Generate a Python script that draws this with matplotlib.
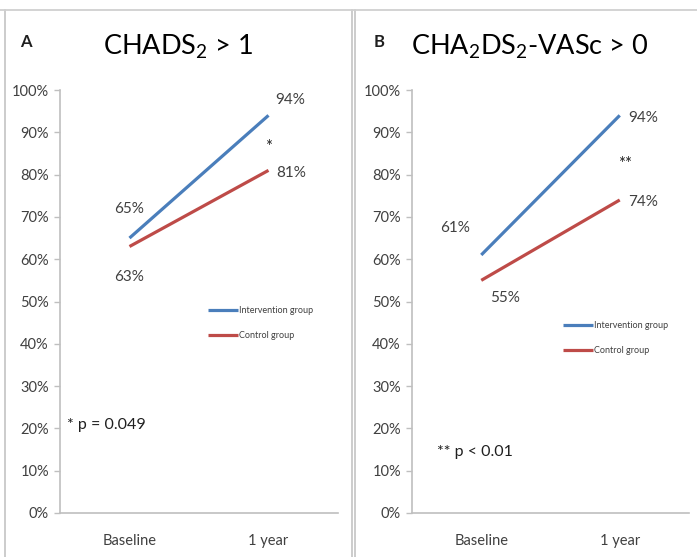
import matplotlib
matplotlib.use("Agg")
import matplotlib.pyplot as plt
from matplotlib.lines import Line2D
from matplotlib.ticker import PercentFormatter

plt.rcParams['font.family'] = ['Lato', 'DejaVu Sans']
plt.rcParams['mathtext.fontset'] = 'custom'
plt.rcParams['mathtext.rm'] = 'Lato'
plt.rcParams['mathtext.it'] = 'Lato'

# ---- data ----
categories = ["Baseline", "1 year"]
series_names = ["Intervention group", "Control group"]
a_intervention = [65, 94]
a_control = [63, 81]
b_intervention = [61, 94]
b_control = [55, 74]
yticks = [0, 10, 20, 30, 40, 50, 60, 70, 80, 90, 100]

BLUE = "#4a7ebb"
RED = "#be4b48"
AXC = "#bfbfbf"
TXT = "#404040"

W, H = 697, 557
fig = plt.figure(figsize=(W / 100, H / 100), dpi=100)


def fx(px):
    return px / W


def fy(py):
    return 1 - py / H


# panel borders
for (x0, x1) in [(5, 352), (355, 720)]:
    fig.add_artist(Line2D([fx(x0), fx(x0)], [fy(10), fy(600)], color="#c8c8c8", lw=1.3, transform=fig.transFigure))
    fig.add_artist(Line2D([fx(x1), fx(x1)], [fy(10), fy(600)], color="#c8c8c8", lw=1.3, transform=fig.transFigure))
fig.add_artist(Line2D([0, 1], [fy(10), fy(10)], color="#d0d0d0", lw=1.3, transform=fig.transFigure))


def make_axes(left_px, width_px, inter, ctrl, leg_anchor):
    ax = fig.add_axes([fx(left_px), fy(513), width_px / W, 423 / H])
    x = list(range(len(categories)))
    ax.plot(x, [v / 100 for v in inter], color=BLUE, lw=2.3, solid_capstyle='butt', label=series_names[0])
    ax.plot(x, [v / 100 for v in ctrl], color=RED, lw=2.3, solid_capstyle='butt', label=series_names[1])
    ax.set_xlim(-0.5, 1.5)
    ax.set_ylim(0, 1)
    ax.set_yticks([t / 100 for t in yticks])
    ax.yaxis.set_major_formatter(PercentFormatter(1.0, decimals=0))
    ax.set_xticks(x)
    ax.set_xticklabels(categories)
    for s in ["top", "right"]:
        ax.spines[s].set_visible(False)
    for s in ["left", "bottom"]:
        ax.spines[s].set_color(AXC)
        ax.spines[s].set_linewidth(1.2)
    ax.tick_params(axis='y', length=4, width=1.0, color=AXC, labelsize=10.5, labelcolor=TXT, pad=4)
    ax.tick_params(axis='x', length=0, labelsize=10.5, labelcolor=TXT, pad=15)
    leg = ax.legend(loc='upper left', bbox_to_anchor=leg_anchor, frameon=False, fontsize=6.5,
                    handlelength=3.3, handletextpad=0.15, labelspacing=1.75, borderpad=0, borderaxespad=0)
    for t in leg.get_texts():
        t.set_color(TXT)
    return ax


def lab(ax, xi, v, dx, dy):
    ax.annotate(f"{v}%", (xi, v / 100), xytext=(dx, dy), textcoords='offset pixels',
                ha='center', va='center', fontsize=11, color=TXT)


# Panel A
axA = make_axes(60, 278, a_intervention, a_control, (0.532, 0.489))
lab(axA, 0, a_intervention[0], 0, 29)
lab(axA, 0, a_control[0], 0, -30)
lab(axA, 1, a_intervention[1], 22, 15)
lab(axA, 1, a_control[1], 23, -3)
axA.text(1.0, 0.865, "*", ha='center', va='center', fontsize=12, color="#202020")
axA.text(-0.45, 0.208, "* p = 0.049", ha='left', va='center', fontsize=11.5, color="#202020")

# Panel B
axB = make_axes(412, 277, b_intervention, b_control, (0.545, 0.454))
lab(axB, 0, b_intervention[0], -26, 27)
lab(axB, 0, b_control[0], 24, -18)
lab(axB, 1, b_intervention[1], 23, -3)
lab(axB, 1, b_control[1], 23, -2)
axB.text(1.038, 0.825, "**", ha='center', va='center', fontsize=12, color="#202020")
axB.text(-0.32, 0.144, "** p < 0.01", ha='left', va='center', fontsize=11.5, color="#202020")

# titles and panel letters
fig.text(fx(178), fy(47), r"CHADS$_2$ > 1", ha='center', va='center', fontsize=19.5, color="black")
fig.text(fx(530), fy(47), r"CHA$_2$DS$_2$-VASc > 0", ha='center', va='center', fontsize=19.5, color="black")
fig.text(fx(26), fy(42), "A", ha='center', va='center', fontsize=12, fontweight='bold', color="#202020")
fig.text(fx(379), fy(42), "B", ha='center', va='center', fontsize=12, fontweight='bold', color="#202020")

fig.savefig("out.png", dpi=100)
